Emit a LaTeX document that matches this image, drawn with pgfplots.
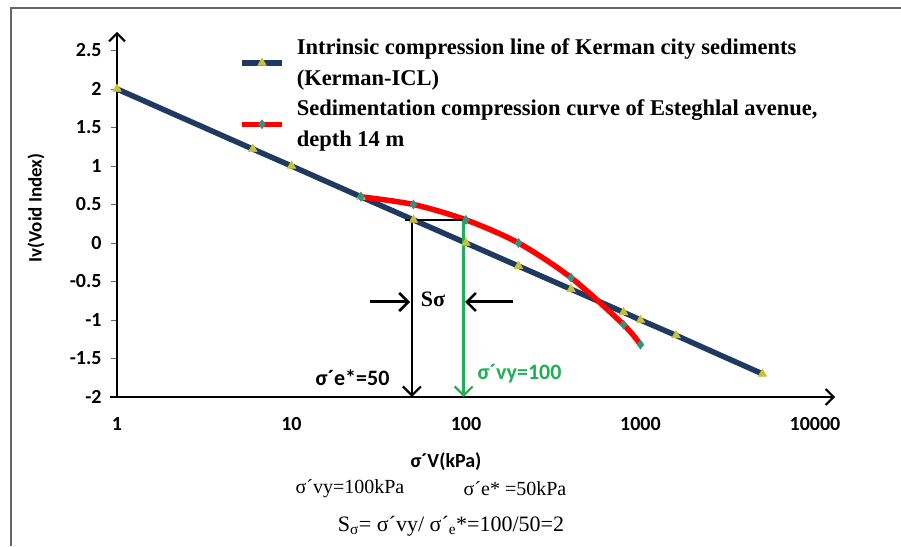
\documentclass[border=0pt]{standalone}
\usepackage{fontspec}
\setmainfont{Liberation Serif}
\newfontfamily\carlito{Carlito}
\usepackage{pgfplots}
\pgfplotsset{compat=1.18}
\usetikzlibrary{arrows.meta}
\definecolor{icl}{HTML}{1F3A60}
\definecolor{triy}{HTML}{C8C23A}
\definecolor{teal2}{HTML}{3A8F7E}
\definecolor{grn}{HTML}{1DB054}
\definecolor{frame}{HTML}{666666}
\begin{document}
\begin{tikzpicture}[x=1pt,y=1pt]
\useasboundingbox (0,0) rectangle (901,546);
\draw[frame, line width=2pt] (11,0) -- (11,538) -- (901,538);
\begin{axis}[
  at={(117pt,149pt)}, anchor=south west,
  scale only axis, width=718pt, height=365pt,
  xmode=log, xmin=1, xmax=13030, ymin=-2, ymax=2.74,
  axis lines=left,
  axis line style={line width=2.2pt},
  x axis line style={-{Straight Barb[length=8pt,width=16pt,line width=2pt]}, shorten <=-7pt},
  y axis line style={-{Straight Barb[length=8pt,width=16pt,line width=2pt]}},
  xtick={1,10,100,1000,10000},
  xticklabels={1,10,100,1000,10000},
  xminorticks=false,
  xtick style={draw=none},
  ytick={-2,-1.5,-1,-0.5,0,0.5,1,1.5,2,2.5},
  yticklabels={-2,-1.5,-1,-0.5,0,0.5,1,1.5,2,2.5},
  ytick style={line width=0.8pt, black!60},
  tick align=outside, major tick length=6pt,
  ticklabel style={font=\carlito\bfseries\fontsize{20}{20}\selectfont},
  xticklabel style={yshift=-11pt},
  yticklabel style={xshift=-6pt},
  clip=false,
  legend cell align=left,
  legend style={draw=none, fill=none, at={(0.170,0.982)}, anchor=north west,
    font=\bfseries\fontsize{22.5}{31}\selectfont, row sep=13pt,
    cells={align=left}, inner sep=0pt,
    nodes={inner xsep=12pt, inner ysep=0pt}},
  legend image code/.code={
    \draw[mark repeat=2, mark phase=2, #1] plot coordinates {(0pt,0pt) (20pt,0pt) (40pt,0pt)};
  },
]
\addplot[icl, line width=5.5pt, mark=triangle*, mark size=5pt,
  mark options={fill=triy, draw=triy, line width=0.5pt}]
  coordinates {(1,2) (6,1.22) (10,1) (25,0.6) (50,0.3) (100,0) (200,-0.3) (400,-0.6) (800,-0.9) (1000,-1) (1600,-1.2) (5000,-1.7)};
\addlegendentry{Intrinsic compression line of Kerman city sediments\\(Kerman-ICL)}
\addplot[red, line width=5.5pt, smooth, tension=0.5, mark=diamond*, mark size=4.5pt,
  mark options={fill=teal2, draw=teal2, line width=0.5pt}]
  coordinates {(25,0.6) (50,0.5) (100,0.3) (200,0) (400,-0.45) (800,-1.06) (1000,-1.32)};
\addlegendentry{Sedimentation compression curve of Esteghlal avenue,\\depth 14 m}
% annotations
\draw[black, line width=1.8pt] (axis cs:45,0.3) -- (axis cs:100,0.3);
\draw[black, line width=2.5pt, -{Straight Barb[length=9pt,width=18pt,line width=2.2pt]}] (axis cs:49,0.3) -- (axis cs:49,-2);
\draw[grn, line width=2.5pt, -{Straight Barb[length=9pt,width=18pt,line width=2.2pt]}] (axis cs:97,0.3) -- (axis cs:97,-2);
\end{axis}
% S sigma arrows and label
\draw[black, line width=3pt, -{Straight Barb[length=9pt,width=18pt,line width=2.6pt]}] (370,244) -- (410,244);
\draw[black, line width=3pt, -{Straight Barb[length=9pt,width=18pt,line width=2.6pt]}] (513,244) -- (465,244);
\node[font=\bfseries\fontsize{22}{22}\selectfont, anchor=center] at (433,247) {Sσ};
\node[font=\carlito\bfseries\fontsize{22}{22}\selectfont, anchor=east] at (393,168) {σ´e*=50};
\node[font=\carlito\bfseries\fontsize{22}{22}\selectfont, anchor=west, text=grn] at (474,172) {σ´vy=100};
% axis labels
\node[font=\carlito\bfseries\fontsize{20}{20}\selectfont] at (446,84) {σ´V(kPa)};
\node[font=\carlito\bfseries\fontsize{19}{19}\selectfont, rotate=90] at (36,338) {Iv(Void Index)};
% bottom text
\node[font=\fontsize{20}{20}\selectfont] at (350,57) {σ´vy=100kPa};
\node[font=\fontsize{20}{20}\selectfont] at (515,57) {σ´e* =50kPa};
\node[font=\fontsize{22}{22}\selectfont] at (451,20) {S\textsubscript{σ}= σ´vy/ σ´\textsubscript{e}*=100/50=2};
\end{tikzpicture}
\end{document}
